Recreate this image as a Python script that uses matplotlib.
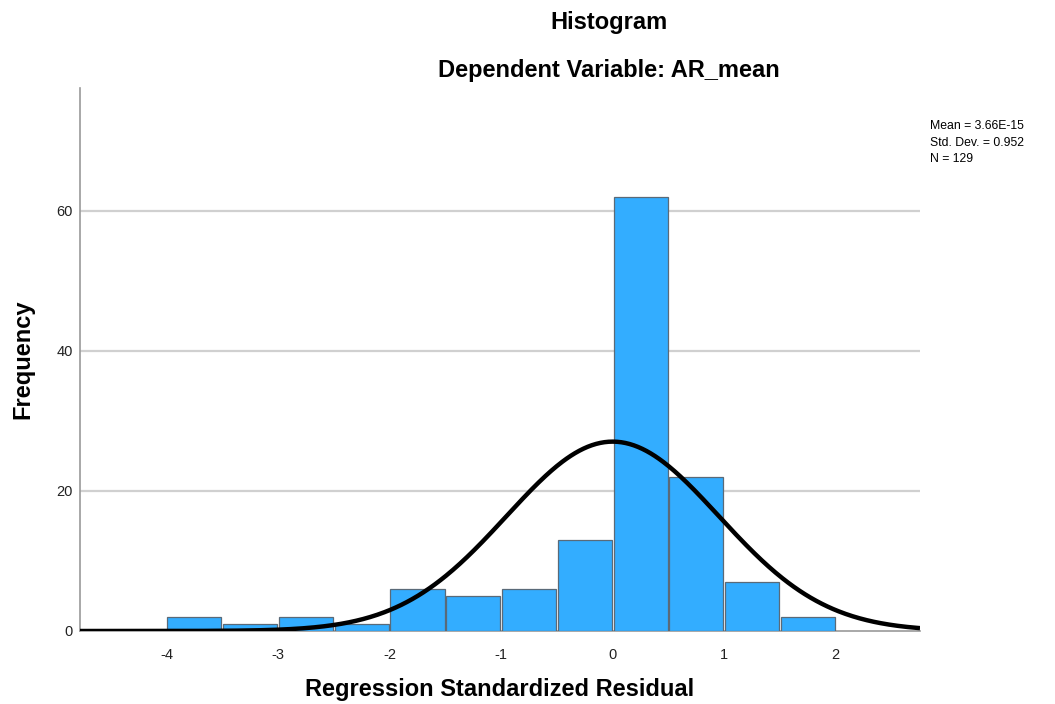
import numpy as np
import matplotlib
matplotlib.use("Agg")
import matplotlib.pyplot as plt

# Data
bin_edges_left = [-4.0, -3.5, -3.0, -2.5, -2.0, -1.5, -1.0, -0.5, 0.0, 0.5, 1.0, 1.5]
counts = [2, 1, 2, 1, 6, 5, 6, 13, 62, 22, 7, 2]
bin_width = 0.5
mean_val = 3.66e-15
sd_val = 0.952
n_val = 129
x_ticks = [-4, -3, -2, -1, 0, 1, 2]
y_ticks = [0, 20, 40, 60]

plt.rcParams['font.family'] = ['Liberation Sans', 'DejaVu Sans']

fig = plt.figure(figsize=(10.55, 7.04), dpi=100)
ax = fig.add_axes([80/1055, 73/704, 840/1055, 543/704])

gap = 0.015
ax.bar(np.array(bin_edges_left) + gap/2, counts, width=bin_width - gap, align='edge',
       color='#33adff', edgecolor='#5a6a78', linewidth=0.9, zorder=3)

xmin, xmax = -4.775, 2.755
xs = np.linspace(xmin, xmax, 600)
ys = n_val * bin_width / (sd_val * np.sqrt(2*np.pi)) * np.exp(-0.5*((xs - mean_val)/sd_val)**2)
ax.plot(xs, ys, color='black', linewidth=3.2, zorder=4, solid_capstyle='butt')

ax.set_xlim(xmin, xmax)
ax.set_ylim(0, 77.5)
ax.set_xticks(x_ticks)
ax.set_xticklabels([str(t) for t in x_ticks])
ax.set_yticks(y_ticks)
ax.tick_params(length=0, labelsize=10.5, pad=12, labelcolor='#222222')
ax.tick_params(axis='y', pad=5)
for t in y_ticks[1:]:
    ax.axhline(t, color='#d0d0d0', linewidth=1.6, zorder=1)

for s in ['top', 'right']:
    ax.spines[s].set_visible(False)
ax.spines['left'].set_color('#9a9a9a')
ax.spines['bottom'].set_color('#9a9a9a')
ax.spines['left'].set_linewidth(1.2)
ax.spines['bottom'].set_linewidth(1.2)

ax.set_xlabel('Regression Standardized Residual', fontsize=17, fontweight='bold', labelpad=12)
ax.set_ylabel('Frequency', fontsize=17, fontweight='bold', labelpad=16)

fig.text(609/1055, 1 - 23/704, 'Histogram', ha='center', va='center', fontsize=17, fontweight='bold')
fig.text(609/1055, 1 - 70/704, 'Dependent Variable: AR_mean', ha='center', va='center', fontsize=17, fontweight='bold')

fig.text(930/1055, 1 - 120/704,
         f'Mean = 3.66E-15\nStd. Dev. = {sd_val:.3f}\nN = {n_val}',
         ha='left', va='top', fontsize=8.8, linespacing=1.5)

fig.savefig('out.png', dpi=100)
